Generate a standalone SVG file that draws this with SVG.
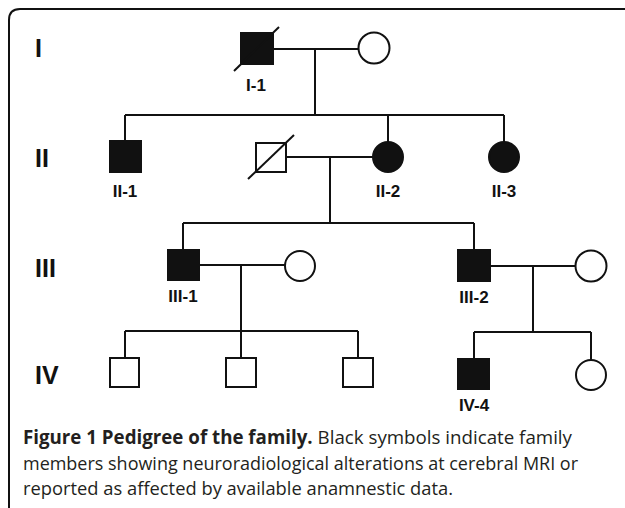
<svg xmlns="http://www.w3.org/2000/svg" width="625" height="508" viewBox="0 0 625 508">
<style>
.ln{stroke:#111;stroke-width:2;fill:none}
.aff{fill:#111;stroke:#111;stroke-width:2}
.un{fill:#fff;stroke:#111;stroke-width:2}
.lab{font-family:"Liberation Sans",Arial,sans-serif;font-weight:bold;font-size:17px;fill:#111;text-anchor:middle}
.gen{font-family:"Liberation Sans",Arial,sans-serif;font-weight:bold;font-size:25px;fill:#111}
.cap{font-family:"Open Sans","Liberation Sans",sans-serif;font-size:19px;fill:#231f20}
</style>
<rect width="625" height="508" fill="#fff"/>
<path class="ln" d="M9,508 V20 Q9,9 20,9 H625" stroke-width="1.5"/>
<g id="generations">
<text class="gen" x="35" y="57">I</text>
<text class="gen" x="35" y="167">II</text>
<text class="gen" x="35" y="277">III</text>
<text class="gen" x="35" y="384">IV</text>
</g>
<g id="connectors">
<path class="ln" d="M273,49 H358 M315,49 V115 M125,115 H504 M125,115 V141 M388,115 V142 M504,115 V142"/>
<path class="ln" d="M286,157 H373 M330,157 V223 M183,223 H474 M183,223 V250 M474,223 V250"/>
<path class="ln" d="M199,265 H285 M241,265 V331 M125,331 H358 M125,331 V358 M241,331 V358 M358,331 V358"/>
<path class="ln" d="M490,266 H576 M533,266 V332 M474,332 H591 M474,332 V359 M591,332 V360"/>
</g>
<g id="I-1">
<rect class="aff" x="241" y="33" width="32" height="31"/>
<line class="ln" x1="234" y1="71" x2="279" y2="27"/>
<text class="lab" x="256" y="91">I-1</text>
</g>
<g id="I-2"><circle class="un" cx="374" cy="48" r="15.5"/></g>
<g id="II-1">
<rect class="aff" x="110" y="141" width="31" height="31"/>
<text class="lab" x="125" y="197">II-1</text>
</g>
<g id="II-spouse">
<rect class="un" x="256" y="143" width="30" height="29"/>
<line class="ln" x1="248" y1="179" x2="294" y2="135"/>
</g>
<g id="II-2">
<circle class="aff" cx="388" cy="157" r="15"/>
<text class="lab" x="388" y="197">II-2</text>
</g>
<g id="II-3">
<circle class="aff" cx="504" cy="157" r="15"/>
<text class="lab" x="504" y="197">II-3</text>
</g>
<g id="III-1">
<rect class="aff" x="168" y="250" width="31" height="30"/>
<text class="lab" x="183" y="302">III-1</text>
</g>
<g id="III-1-spouse"><circle class="un" cx="300" cy="266" r="15"/></g>
<g id="III-2">
<rect class="aff" x="458" y="250" width="32" height="31"/>
<text class="lab" x="474" y="303">III-2</text>
</g>
<g id="III-2-spouse"><circle class="un" cx="591" cy="266" r="15.5"/></g>
<g id="IV-1"><rect class="un" x="110" y="358" width="29" height="29"/></g>
<g id="IV-2"><rect class="un" x="226" y="358" width="30" height="29"/></g>
<g id="IV-3"><rect class="un" x="343" y="358" width="30" height="29"/></g>
<g id="IV-4">
<rect class="aff" x="458" y="359" width="31" height="30"/>
<text class="lab" x="474" y="411">IV-4</text>
</g>
<g id="IV-5"><circle class="un" cx="591" cy="375" r="15"/></g>
<g id="caption">
<text class="cap" x="23" y="444" textLength="549" lengthAdjust="spacingAndGlyphs"><tspan font-weight="bold">Figure 1 Pedigree of the family.</tspan> Black symbols indicate family</text>
<text class="cap" x="23" y="469.5" textLength="555" lengthAdjust="spacingAndGlyphs">members showing neuroradiological alterations at cerebral MRI or</text>
<text class="cap" x="23" y="495" textLength="430" lengthAdjust="spacingAndGlyphs">reported as affected by available anamnestic data.</text>
</g>
</svg>
